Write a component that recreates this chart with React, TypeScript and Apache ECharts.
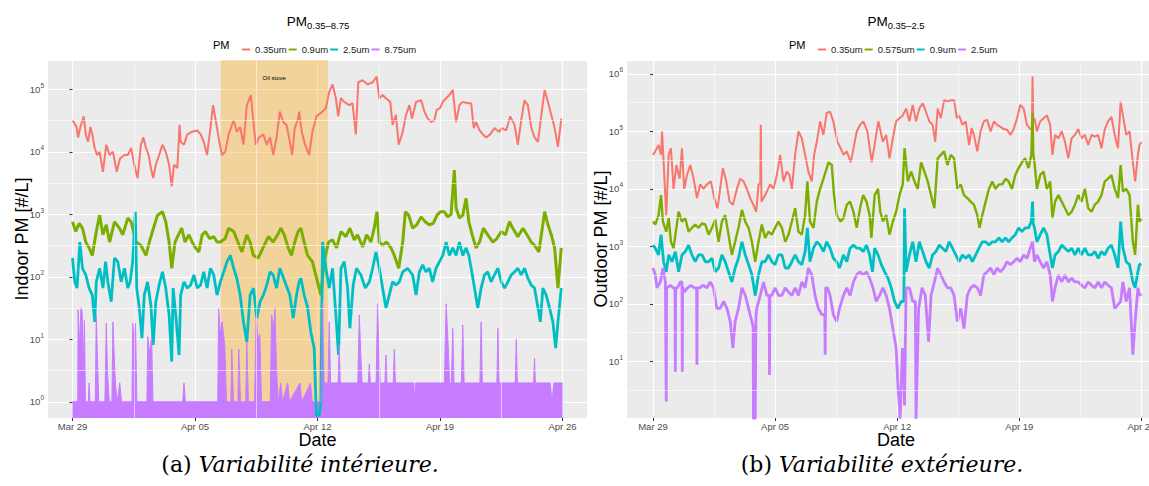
import React, { useEffect, useRef } from 'react';
import * as echarts from 'echarts';

// ---------- axes / annotation data ----------
const X_TICKS = [0, 7, 14, 21, 28];
const X_TICK_LABELS = ['Mar 29', 'Apr 05', 'Apr 12', 'Apr 19', 'Apr 26'];
const X_MINOR = [3.5, 10.5, 17.5, 24.5];
const Y_MINOR_IN = [3.162, 31.62, 316.2, 3162, 31623];
const Y_MINOR_OUT = [3.162, 31.62, 316.2, 3162, 31623, 316228];
const OIL_STOVE = [8.47, 14.59];
const IN_NAMES = ['0.35um', '0.9um', '2.5um', '8.75um'];
const OUT_NAMES = ['0.35um', '0.575um', '0.9um', '2.5um'];
const COLORS = ['#F8766D', '#7CAE00', '#00BFC4', '#C77CFF'];

// ---------- indoor series: [day since Mar 29, #/L] ----------
const IN_035: [number, number][] = [[0,3.2e4],[0.23,2.5e4],[0.32,1.7e4],[0.45,2.5e4],[0.64,3.7e4],[0.76,1.9e4],[0.89,1.45e4],[1.02,2.5e4],[1.13,1.9e4],[1.27,1.15e4],[1.4,8.9e3],[1.55,1e4],[1.74,4.8e3],[1.93,1.3e4],[2.12,8.9e3],[2.31,1e4],[2.53,4.8e3],[2.72,7.9e3],[2.97,8.9e3],[3.16,8.9e3],[3.35,1.15e4],[3.53,6.2e3],[3.72,3.8e3],[3.91,1.3e4],[4.05,1.7e4],[4.2,1.15e4],[4.35,8.9e3],[4.48,5.5e3],[4.61,3.8e3],[4.76,6.2e3],[4.95,8.9e3],[5.14,1.3e4],[5.33,1e4],[5.52,6.2e3],[5.67,2.8e3],[5.8,6.2e3],[5.99,5.5e3],[6.12,2.7e4],[6.18,1.45e4],[6.37,1.3e4],[6.56,1.9e4],[6.84,2.1e4],[7.13,2.2e4],[7.32,1.9e4],[7.5,1.45e4],[7.69,8.9e3],[7.88,2.4e4],[8.03,5.6e4],[8.2,3e4],[8.39,1.45e4],[8.54,8.9e3],[8.73,1e4],[8.92,1.9e4],[9.21,3.2e4],[9.39,2.1e4],[9.58,2.5e4],[9.77,1.3e4],[9.96,5.6e4],[10.19,8.1e4],[10.34,3e4],[10.47,1.3e4],[10.66,1.7e4],[10.91,1.9e4],[11.1,1.3e4],[11.29,1.7e4],[11.47,8.9e3],[11.66,1.7e4],[11.85,4.4e4],[12.04,3e4],[12.23,2.7e4],[12.42,1.45e4],[12.55,8.9e3],[12.7,2.4e4],[12.89,3.4e4],[12.95,4.4e4],[13.1,2.1e4],[13.29,1.3e4],[13.52,8.9e3],[13.71,2.1e4],[13.94,3.7e4],[14.19,4.2e4],[14.48,5e4],[14.67,9.2e4],[14.86,1.2e5],[15.05,7.2e4],[15.18,3.7e4],[15.34,7.2e4],[15.53,6.3e4],[15.81,5.6e4],[16,6e4],[16.19,1.9e4],[16.33,1.3e5],[16.58,1.4e5],[16.86,1.2e5],[17.15,1.3e5],[17.38,1.6e5],[17.53,7.2e4],[17.72,8.1e4],[17.91,7.2e4],[18.16,6.3e4],[18.29,2.7e4],[18.48,3.9e4],[18.64,1.3e4],[18.87,2.1e4],[19.06,3.9e4],[19.25,5.6e4],[19.4,3.4e4],[19.63,6.3e4],[19.92,6.7e4],[20.11,4.4e4],[20.3,3.4e4],[20.49,3e4],[20.68,3.2e4],[20.81,4.7e4],[21,5e4],[21.16,6.3e4],[21.35,7.2e4],[21.54,8.1e4],[21.73,9.8e4],[21.92,3e4],[22.11,5.6e4],[22.3,6.3e4],[22.59,6e4],[22.78,6e4],[22.93,2.4e4],[23.06,3e4],[23.26,2.2e4],[23.45,1.9e4],[23.64,1.7e4],[23.87,1.9e4],[24.11,2.4e4],[24.36,2.1e4],[24.55,2.4e4],[24.78,2.2e4],[25.01,3.7e4],[25.26,2.7e4],[25.45,1.3e4],[25.64,3.2e4],[25.83,6.7e4],[26.02,5.6e4],[26.21,2.5e4],[26.4,1.7e4],[26.6,1.45e4],[26.79,3.9e4],[26.98,9.8e4],[27.17,6.3e4],[27.36,3.9e4],[27.55,2.4e4],[27.74,1.2e4],[27.93,3.4e4]];

const IN_09: [number, number][] = [[0,7.6e2],[0.19,5.3e2],[0.38,7.2e2],[0.57,6e2],[0.76,3.6e2],[0.95,2.9e2],[1.13,2.2e2],[1.36,5.3e2],[1.55,9.7e2],[1.74,4.7e2],[1.93,6.8e2],[2.12,3.6e2],[2.4,7.6e2],[2.68,6e2],[2.87,4.7e2],[3.16,8.7e2],[3.35,7.6e2],[3.63,3.6e2],[3.91,3.2e2],[4.2,2.2e2],[4.39,3.6e2],[4.57,5.3e2],[4.86,9.7e2],[5.14,1.1e3],[5.33,7.6e2],[5.52,3.6e2],[5.67,1.37e2],[5.86,3.6e2],[6.05,4.7e2],[6.24,6e2],[6.43,3.6e2],[6.65,4.7e2],[6.84,3.6e2],[7.03,2.9e2],[7.22,2.5e2],[7.41,4.7e2],[7.6,5.3e2],[7.83,4.1e2],[8.07,4.4e2],[8.26,3.6e2],[8.45,3.6e2],[8.73,4.1e2],[8.92,6e2],[9.21,5.3e2],[9.45,3.6e2],[9.68,2.5e2],[9.96,4.7e2],[10.15,3.6e2],[10.34,2.2e2],[10.62,2e2],[10.91,3e2],[11.19,4.4e2],[11.47,3.6e2],[11.72,4.7e2],[11.91,6e2],[12.1,4.7e2],[12.33,2.9e2],[12.51,2.2e2],[12.7,3.6e2],[12.89,5.3e2],[13.05,6e2],[13.24,3.6e2],[13.43,2.2e2],[13.71,1.75e2],[14,83],[14.19,51],[14.38,1.75e2],[14.63,3.6e2],[14.86,3.9e2],[15.09,2.9e2],[15.34,5.3e2],[15.62,4.4e2],[15.85,6e2],[16.1,3.9e2],[16.29,4.7e2],[16.58,3e2],[16.81,4.7e2],[17.05,3.6e2],[17.24,6e2],[17.4,1.1e3],[17.53,3.6e2],[17.72,3.2e2],[17.95,3.6e2],[18.2,2.9e2],[18.39,2.2e2],[18.64,1.37e2],[18.87,3.6e2],[19.02,1.1e3],[19.21,9.7e2],[19.44,6e2],[19.67,6.8e2],[19.92,9.1e2],[20.15,7.6e2],[20.39,6.8e2],[20.62,7.2e2],[20.83,9.7e2],[21.02,1.1e3],[21.25,1.1e3],[21.44,9.1e2],[21.63,1e3],[21.82,5.1e3],[21.92,1.26e3],[22.11,8.7e2],[22.3,9.7e2],[22.49,1.8e3],[22.65,7.6e2],[22.84,4.7e2],[23.06,2.9e2],[23.26,3.6e2],[23.48,6e2],[23.73,4.7e2],[24.02,3.6e2],[24.25,4.1e2],[24.5,5.3e2],[24.74,4.7e2],[24.97,7.6e2],[25.16,6e2],[25.45,4.4e2],[25.74,6e2],[25.97,4.7e2],[26.21,3.6e2],[26.4,3.2e2],[26.65,2.5e2],[26.98,1.1e3],[27.17,6.8e2],[27.36,4.7e2],[27.55,2.9e2],[27.74,66],[27.93,2.9e2]];

const IN_25: [number, number][] = [[0,2e2],[0.13,83],[0.26,66],[0.42,3.6e2],[0.57,1.37e2],[0.76,1.07e2],[0.95,66],[1.13,51],[1.27,19],[1.36,83],[1.55,1.37e2],[1.74,66],[1.89,1.75e2],[2.02,83],[2.21,40],[2.4,2e2],[2.59,1.75e2],[2.78,83],[2.97,1.37e2],[3.16,66],[3.29,83],[3.44,1.75e2],[3.59,1.1e3],[3.67,66],[3.82,31.6],[3.97,10.4],[4.1,51],[4.29,83],[4.48,35],[4.61,8.1],[4.76,40],[4.95,74],[5.14,1.2e2],[5.33,66],[5.52,24.5],[5.67,4.4],[5.75,66],[5.9,24.5],[6.09,5.6],[6.18,51],[6.37,83],[6.56,66],[6.75,74],[6.94,1.07e2],[7.13,66],[7.32,74],[7.5,1.2e2],[7.69,66],[7.88,1.37e2],[8.07,1.07e2],[8.26,51],[8.45,83],[8.64,1.2e2],[8.83,1.75e2],[9.02,2.2e2],[9.21,1.37e2],[9.39,95],[9.58,51],[9.77,19],[9.96,9.1],[10.15,51],[10.34,66],[10.53,21.8],[10.72,40],[10.91,51],[11.1,74],[11.29,1.2e2],[11.47,1.07e2],[11.66,66],[11.85,1.37e2],[12.14,83],[12.42,51],[12.61,21.8],[12.8,51],[12.95,83],[13.05,95],[13.24,51],[13.43,33],[13.62,13],[13.81,7.2],[13.94,0.6],[14.1,0.6],[14.19,1],[14.29,3.6e2],[14.48,1.37e2],[14.67,66],[14.86,1.37e2],[15.05,24.5],[15.2,5.6],[15.34,1.37e2],[15.53,1.75e2],[15.72,66],[15.85,15],[16.04,74],[16.23,1.37e2],[16.48,1.07e2],[16.73,66],[16.96,83],[17.15,1.37e2],[17.34,2.5e2],[17.53,1.37e2],[17.72,66],[17.91,31.6],[18.1,51],[18.29,83],[18.48,74],[18.68,83],[18.87,1.2e2],[19.15,1.37e2],[19.44,1.07e2],[19.63,51],[19.82,1.2e2],[20.01,1.55e2],[20.2,1.2e2],[20.39,1.37e2],[20.58,83],[20.77,1.37e2],[20.97,1.75e2],[21.16,2.2e2],[21.35,3.6e2],[21.54,2.2e2],[21.73,2.9e2],[21.92,2.2e2],[22.11,3.6e2],[22.3,2.2e2],[22.49,2.9e2],[22.65,2.2e2],[22.78,1.37e2],[22.97,66],[23.16,31.6],[23.35,66],[23.54,1.07e2],[23.73,1.2e2],[23.92,83],[24.11,1.07e2],[24.31,1.37e2],[24.5,83],[24.69,66],[24.88,83],[25.07,1.07e2],[25.26,1.2e2],[25.45,1.37e2],[25.64,1.07e2],[25.83,1.37e2],[26.02,95],[26.21,74],[26.4,66],[26.6,31.6],[26.73,19],[26.88,66],[27.07,51],[27.26,31.6],[27.45,19],[27.61,7.2],[27.74,19],[27.93,66]];

const IN_875: [number, number][] = [[0,1],[0.3,1],[0.32,30],[0.4,8],[0.48,32],[0.55,28],[0.62,4],[0.68,20],[0.74,1],[0.9,1],[0.95,2],[1,1],[1.3,1],[1.36,24.5],[1.42,6],[1.5,1],[1.85,1],[1.93,18],[2,3],[2.1,1],[2.25,1],[2.31,19],[2.38,6],[2.45,2],[2.55,1],[2.7,2],[2.8,1],[3.4,1],[3.44,18],[3.52,10],[3.6,18],[3.68,1],[4.25,1],[4.3,11],[4.4,6],[4.52,11],[4.6,1],[6.3,1],[6.37,2],[6.45,1],[8.3,1],[8.35,31.6],[8.45,12],[8.55,19],[8.7,8],[8.8,1],[9.05,1],[9.1,7],[9.2,1],[9.45,1],[9.5,7],[9.6,1],[9.9,1],[9.96,9],[10.05,1],[10.4,1],[10.5,24],[10.6,10],[10.7,12],[10.8,1],[11.3,1],[11.38,24.5],[11.5,15],[11.57,31.6],[11.65,4],[11.75,1],[11.9,2],[12,1],[12.3,2],[12.4,1],[13,2],[13.1,1],[13.6,2],[13.7,1],[14.2,1],[14.29,40],[14.38,2],[14.6,2],[14.67,19],[14.75,2],[15.18,2],[15.24,8],[15.3,2],[16.3,2],[16.39,24.5],[16.47,6],[16.55,2],[16.9,2],[16.96,4],[17.02,2],[17.35,2],[17.43,37],[17.5,8],[17.58,2],[17.85,2],[17.91,5.6],[17.97,2],[18.33,2],[18.39,7],[18.45,2],[19.5,2],[19.55,1],[19.6,2],[21.25,2],[21.35,37],[21.45,10],[21.55,2],[21.65,2],[21.73,15],[21.8,2],[22.22,2],[22.3,17],[22.38,2],[23.28,2],[23.35,19],[23.42,2],[24.25,2],[24.31,15],[24.37,2],[25.3,2],[25.36,10],[25.42,2],[26.35,2],[26.4,5],[26.45,2],[27.3,2],[27.4,1],[27.5,2],[28,2]];

// ---------- outdoor series ----------
const OUT_035: [number, number][] = [[0,3.9e4],[0.13,4.5e4],[0.32,5.8e4],[0.46,3.9e4],[0.52,1e5],[0.61,2.9e4],[0.76,3.5e3],[0.9,3.9e4],[1.03,5.1e4],[1.18,1e4],[1.34,2.6e4],[1.53,1.5e4],[1.66,5.1e4],[1.79,1e4],[1.95,1.75e4],[2.14,2.6e4],[2.33,1.5e4],[2.52,6.9e3],[2.71,1.2e4],[2.9,1e4],[3.09,1.2e4],[3.32,1.35e4],[3.51,6.9e3],[3.7,4.6e3],[3.85,1e4],[4.01,2.3e4],[4.2,1.35e4],[4.39,6e3],[4.58,5.3e3],[4.81,1e4],[5,1.5e4],[5.19,1.35e4],[5.38,1e4],[5.57,6.9e3],[5.76,5.3e3],[5.92,4e3],[6.05,1.2e4],[6.15,1.2e4],[6.18,1.3e5],[6.22,6e3],[6.43,7.8e3],[6.72,1.2e4],[6.91,1e4],[7.1,1.75e4],[7.29,3.9e4],[7.48,1.35e4],[7.67,2e4],[7.82,1.75e4],[7.96,1e4],[8.15,3.9e4],[8.34,1e5],[8.53,7.6e4],[8.72,3.9e4],[8.91,2e4],[9.1,1.35e4],[9.24,3.9e4],[9.39,6.6e4],[9.58,1.5e5],[9.77,8.7e4],[9.96,2.1e5],[10.15,2.2e5],[10.34,1.5e5],[10.57,6.6e4],[10.76,5.1e4],[10.92,3.9e4],[11.11,4.5e4],[11.34,2.9e4],[11.53,5.8e4],[11.68,1e5],[11.87,1.3e5],[12.06,1.5e5],[12.29,1e5],[12.54,2.9e4],[12.73,6.6e4],[12.92,1.5e5],[13.18,6.6e4],[13.37,8.7e4],[13.56,3.4e4],[13.75,7.6e4],[13.94,1.5e5],[14.13,1.7e5],[14.32,1.9e5],[14.51,2.5e5],[14.7,1.5e5],[14.89,2.9e5],[15.08,1.5e5],[15.27,2.5e5],[15.46,3.1e5],[15.65,2.2e5],[15.84,1.5e5],[16.03,1.3e5],[16.18,6.6e4],[16.32,2.5e5],[16.5,1.7e5],[16.69,3.5e5],[16.88,3.3e5],[17.07,3.5e5],[17.26,3.5e5],[17.42,1.7e5],[17.55,1.9e5],[17.74,1.3e5],[17.93,1.5e5],[18.12,5.8e4],[18.27,1.15e5],[18.4,8.7e4],[18.59,4.5e4],[18.78,1e5],[18.97,1.5e5],[19.16,1.6e5],[19.35,1e5],[19.55,1.5e5],[19.73,1.3e5],[19.92,1.2e5],[20.11,1.1e5],[20.3,1.07e5],[20.49,8.7e4],[20.68,1.1e5],[20.87,1.7e5],[21.06,2.9e5],[21.25,2.5e5],[21.44,1.3e5],[21.63,1.1e5],[21.72,1.1e5],[21.76,9e5],[21.8,1.5e5],[21.87,1.7e5],[22.01,1e5],[22.2,1.5e5],[22.39,1.7e5],[22.58,1.9e5],[22.77,1.3e5],[22.9,3.9e4],[23.05,8.7e4],[23.24,7.6e4],[23.43,1e5],[23.62,6.6e4],[23.81,3.4e4],[24,7.6e4],[24.19,8.7e4],[24.38,1.1e5],[24.57,7.6e4],[24.76,8.7e4],[24.95,5.8e4],[25.14,8.7e4],[25.33,8.1e4],[25.52,8.7e4],[25.71,5.1e4],[25.9,1.1e5],[26.09,1.5e5],[26.28,1.8e5],[26.47,8.7e4],[26.66,5.1e4],[26.81,3.3e5],[26.94,1.9e5],[27.13,8.7e4],[27.32,1e5],[27.51,2.9e4],[27.64,1.35e4],[27.8,3.9e4],[27.89,5.8e4],[28,6.5e4]];

const OUT_0575: [number, number][] = [[0,2.7e3],[0.13,2.4e3],[0.32,3.5e3],[0.46,7.8e3],[0.57,2.7e3],[0.76,1.8e3],[0.9,3.1e3],[1.03,1.2e3],[1.18,9.3e2],[1.34,2.1e3],[1.47,4e3],[1.66,2.7e3],[1.85,3.1e3],[2.04,1.8e3],[2.23,2.1e3],[2.42,2.4e3],[2.61,2.1e3],[2.81,2.5e3],[3,2.4e3],[3.19,1.6e3],[3.38,2.1e3],[3.57,2.9e3],[3.76,1.2e3],[3.95,2.7e3],[4.14,3.5e3],[4.33,1.6e3],[4.52,7.1e2],[4.71,1.2e3],[4.9,2.1e3],[5.1,4.3e3],[5.29,2.7e3],[5.48,2.1e3],[5.67,1.2e3],[5.86,5.4e2],[6.05,1.2e3],[6.24,2.4e3],[6.43,1.4e3],[6.62,1.8e3],[6.81,1.6e3],[7,2.1e3],[7.19,2.7e3],[7.39,2.1e3],[7.58,1.2e3],[7.77,1.6e3],[7.96,2.7e3],[8.15,4.6e3],[8.34,1.8e3],[8.53,1.6e3],[8.72,3.5e3],[8.85,1.35e4],[9,2.7e3],[9.2,2.1e3],[9.39,6e3],[9.58,1e4],[9.77,1.5e4],[10.06,2.9e4],[10.25,2.6e4],[10.38,7.8e3],[10.53,3.5e3],[10.76,2.7e3],[10.92,3.1e3],[11.11,5.3e3],[11.3,6e3],[11.49,4e3],[11.68,2.1e3],[11.87,4.6e3],[12.05,7.8e3],[12.24,6e3],[12.42,3.5e3],[12.52,1.4e3],[12.71,7.8e3],[12.9,1e4],[13.03,4e3],[13.18,2.7e3],[13.37,3.5e3],[13.56,1.6e3],[13.75,2.7e3],[13.94,4e3],[14.13,7.8e3],[14.32,1.2e4],[14.42,5.1e4],[14.61,1.35e4],[14.8,2e4],[14.99,1.35e4],[15.18,1e4],[15.37,2.9e4],[15.56,2e4],[15.75,1.35e4],[15.94,7.8e3],[16.13,4.6e3],[16.32,3.4e4],[16.5,3.9e4],[16.69,4.5e4],[16.88,2.6e4],[17.07,3.9e4],[17.26,3.4e4],[17.45,1e4],[17.64,1.2e4],[17.83,7.8e3],[18.02,6.9e3],[18.21,6e3],[18.4,5.3e3],[18.59,3.5e3],[18.72,2.1e3],[18.88,3.5e3],[19.07,6e3],[19.26,1e4],[19.45,1.35e4],[19.64,1e4],[19.83,1.2e4],[20.02,1.2e4],[20.21,1.5e4],[20.39,1.35e4],[20.58,1e4],[20.77,1.75e4],[20.96,2.3e4],[21.15,2.9e4],[21.34,3.4e4],[21.53,2.3e4],[21.69,3.9e4],[21.76,2.1e5],[21.8,4e4],[21.87,2.9e4],[22.01,1e4],[22.2,1.75e4],[22.39,2e4],[22.58,1e4],[22.77,1.35e4],[22.9,3.1e3],[23.05,6e3],[23.24,7.8e3],[23.43,6e3],[23.62,4.6e3],[23.81,3.5e3],[24,4e3],[24.19,5.3e3],[24.38,7.8e3],[24.57,6e3],[24.76,1e4],[24.95,4.6e3],[25.14,4e3],[25.33,5.3e3],[25.52,6e3],[25.71,7.8e3],[25.9,1.35e4],[26.09,1.5e4],[26.28,1.75e4],[26.47,1e4],[26.66,6.9e3],[26.81,2.6e4],[26.94,9e3],[27.13,1e4],[27.32,7.8e3],[27.51,1.2e3],[27.64,7.1e2],[27.8,5.3e3],[27.89,2.7e3],[28,3e3]];

const OUT_09: [number, number][] = [[0,1.05e3],[0.13,9.3e2],[0.32,7.1e2],[0.46,1.6e3],[0.61,5.4e2],[0.76,3.6e2],[0.9,7.1e2],[1.09,5.4e2],[1.28,8.1e2],[1.47,3.6e2],[1.66,7.1e2],[1.85,8.1e2],[2.04,1.05e3],[2.23,7.1e2],[2.42,5.4e2],[2.61,7.1e2],[2.81,7.1e2],[3,5.4e2],[3.19,5.4e2],[3.38,6.2e2],[3.57,3.6e2],[3.76,4.2e2],[3.95,7.1e2],[4.14,5.4e2],[4.33,3.6e2],[4.52,2.4e2],[4.71,4.2e2],[4.9,6.2e2],[5.1,1.2e3],[5.29,7.1e2],[5.48,4.8e2],[5.67,3.2e2],[5.86,1.4e2],[6.05,3.2e2],[6.24,5.4e2],[6.43,5.4e2],[6.62,7.1e2],[6.81,5.4e2],[7,4.8e2],[7.19,7.1e2],[7.39,7.1e2],[7.58,4.2e2],[7.77,4.2e2],[7.96,5.4e2],[8.15,7.1e2],[8.34,5.4e2],[8.53,4.8e2],[8.72,8.1e2],[8.85,2.1e3],[9,5.4e2],[9.2,9.3e2],[9.39,1.2e3],[9.58,1.05e3],[9.77,8.1e2],[9.96,1.2e3],[10.15,9.3e2],[10.34,6.2e2],[10.53,5.4e2],[10.69,4.2e2],[10.92,7.1e2],[11.11,5.4e2],[11.3,9.3e2],[11.49,1.05e3],[11.68,9.3e2],[11.86,9.3e2],[12.05,8.1e2],[12.24,1.05e3],[12.42,7.1e2],[12.58,3.6e2],[12.71,9.3e2],[12.9,7.1e2],[13.09,4.8e2],[13.28,3.6e2],[13.47,2.8e2],[13.66,1.9e2],[13.85,1.1e2],[14.04,83],[14.23,1.1e2],[14.38,1.1e2],[14.42,4.6e3],[14.51,3.6e2],[14.7,7.1e2],[14.89,1.2e3],[15.08,5.4e2],[15.27,1.2e3],[15.46,8.1e2],[15.65,5.4e2],[15.84,4.2e2],[16.03,7.1e2],[16.22,8.1e2],[16.41,1.05e3],[16.6,9.3e2],[16.79,8.1e2],[16.98,1.2e3],[17.17,9.3e2],[17.36,7.1e2],[17.55,5.4e2],[17.74,7.1e2],[17.93,6.2e2],[18.12,7.1e2],[18.31,5.4e2],[18.5,7.1e2],[18.69,9.3e2],[18.88,1.2e3],[19.07,1.2e3],[19.26,1.05e3],[19.45,1.2e3],[19.64,1.2e3],[19.83,1.4e3],[20.02,1.2e3],[20.21,1.4e3],[20.39,1.2e3],[20.58,1.4e3],[20.77,1.6e3],[20.96,2.1e3],[21.15,1.8e3],[21.34,2.1e3],[21.53,2.1e3],[21.69,2.7e3],[21.76,6e3],[21.8,2.5e3],[21.87,2.1e3],[22.01,1.2e3],[22.2,1.6e3],[22.39,2.1e3],[22.58,1.6e3],[22.77,7.1e2],[22.9,4.2e2],[23.05,7.1e2],[23.24,8.1e2],[23.43,1.05e3],[23.62,9.3e2],[23.81,8.1e2],[24,9.3e2],[24.19,7.1e2],[24.38,9.3e2],[24.57,7.1e2],[24.76,9.3e2],[24.95,7.1e2],[25.14,7.1e2],[25.33,8.1e2],[25.52,6.2e2],[25.71,8.1e2],[25.9,7.1e2],[26.09,9.3e2],[26.28,1.05e3],[26.47,7.1e2],[26.66,4.2e2],[26.81,2.7e3],[26.94,9.3e2],[27.13,5.4e2],[27.32,4.8e2],[27.51,2.4e2],[27.64,1.9e2],[27.8,3.6e2],[27.89,4.8e2],[28,5e2]];

const OUT_25: [number, number][] = [[0,4.2e2],[0.13,3.2e2],[0.23,1.9e2],[0.42,2.4e2],[0.57,4.2e2],[0.71,2.4e2],[0.74,2.4e2],[0.76,2],[0.78,2e2],[0.84,1.9e2],[0.99,2.1e2],[1.15,1.9e2],[1.26,1.9e2],[1.28,6.6],[1.3,1.9e2],[1.41,1.9e2],[1.56,2.4e2],[1.66,2.4e2],[1.68,6.6],[1.7,2e2],[1.79,1.6e2],[1.98,1.9e2],[2.18,2.1e2],[2.37,1.9e2],[2.5,1.9e2],[2.52,8.7],[2.54,1.9e2],[2.67,1.9e2],[2.86,2.1e2],[3.09,1.9e2],[3.28,2.4e2],[3.47,1.9e2],[3.66,83],[3.85,83],[4.05,1.1e2],[4.24,83],[4.43,49],[4.58,17],[4.71,49],[4.9,83],[5.1,1.9e2],[5.29,1.4e2],[5.48,83],[5.67,49],[5.74,40],[5.76,1],[5.86,1],[5.9,60],[5.95,83],[6.15,1.4e2],[6.34,2.4e2],[6.53,1.4e2],[6.66,1.4e2],[6.68,5.8],[6.7,1.4e2],[6.81,1.4e2],[7,1.9e2],[7.19,1.4e2],[7.39,1.4e2],[7.58,1.9e2],[7.77,1.6e2],[7.96,1.4e2],[8.15,1.9e2],[8.34,1.4e2],[8.53,2.4e2],[8.72,1.9e2],[8.91,4.2e2],[9.1,3.2e2],[9.29,1.4e2],[9.48,83],[9.68,65],[9.85,65],[9.87,13],[9.9,1.9e2],[10,1.9e2],[10.15,1.4e2],[10.34,65],[10.53,49],[10.69,83],[10.92,1.4e2],[11.11,1.9e2],[11.3,1.4e2],[11.49,2.4e2],[11.68,3.2e2],[11.86,3.6e2],[12.05,3.2e2],[12.24,3.6e2],[12.42,2.8e2],[12.61,1.9e2],[12.8,1.1e2],[12.99,1.4e2],[13.18,1.9e2],[13.37,1.4e2],[13.56,83],[13.75,37],[13.94,17],[14.04,3.9],[14.17,1],[14.3,17],[14.38,8],[14.42,1.7],[14.51,1.9e2],[14.7,1.9e2],[14.89,1.1e2],[15.04,1.1e2],[15.08,1],[15.12,1],[15.23,83],[15.42,1.9e2],[15.61,1.4e2],[15.8,22],[15.94,1.4e2],[16.13,2.4e2],[16.32,4.2e2],[16.5,3.2e2],[16.69,2.4e2],[16.88,1.9e2],[17.07,1.9e2],[17.26,1.4e2],[17.45,49],[17.64,83],[17.83,37],[18.02,1.4e2],[18.21,1.9e2],[18.4,2.1e2],[18.59,1.9e2],[18.78,1.4e2],[18.97,3.2e2],[19.16,3.6e2],[19.35,4.2e2],[19.55,3.2e2],[19.73,4.2e2],[19.92,3.6e2],[20.11,4.2e2],[20.3,5.4e2],[20.49,4.8e2],[20.68,5.4e2],[20.87,6.2e2],[21.06,5.4e2],[21.25,7.1e2],[21.44,6.2e2],[21.63,9.3e2],[21.76,1.2e3],[21.87,5.4e2],[22.01,7.1e2],[22.2,5.4e2],[22.39,4.2e2],[22.58,5.4e2],[22.77,3.2e2],[22.9,1.1e2],[23.05,1.9e2],[23.24,3.2e2],[23.43,2.4e2],[23.62,3.2e2],[23.81,2.4e2],[24,2.8e2],[24.19,2.4e2],[24.38,2.4e2],[24.57,2.1e2],[24.76,1.9e2],[24.95,2.4e2],[25.14,2.1e2],[25.33,1.9e2],[25.52,2.4e2],[25.71,1.9e2],[25.9,2.4e2],[26.09,2.1e2],[26.28,1.9e2],[26.47,83],[26.66,97],[26.81,1.1e2],[26.94,2.4e2],[27.13,1.1e2],[27.32,1.9e2],[27.51,13],[27.64,49],[27.8,1.9e2],[27.89,1.4e2],[28,1.5e2]];

const FONT = 'Liberation Sans';
const SERIF = 'DejaVu Serif';
const TICK_GREY = '#4D4D4D';

function fmtX(v: number) {
  const i = X_TICKS.findIndex((t) => Math.abs(t - v) < 1e-6);
  return i >= 0 ? X_TICK_LABELS[i] : '';
}
function fmtY(v: number) {
  const e = Math.log10(v);
  const r = Math.round(e);
  if (Math.abs(e - r) > 0.01) return '';
  return `{b|10}{s|${r}}`;
}

function xAxis(gi: number, min: number, max: number) {
  return {
    type: 'value', gridIndex: gi, min, max,
    axisLine: { show: false },
    axisTick: { show: true, length: 3, customValues: X_TICKS, lineStyle: { color: '#333333', width: 1 } },
    axisLabel: { show: true, customValues: X_TICKS, margin: 3, fontSize: 9.5, color: TICK_GREY, fontFamily: FONT, formatter: fmtX },
    splitLine: { show: true, lineStyle: { color: '#FFFFFF', width: 1.1 } },
  };
}
function yAxis(gi: number, min: number, max: number) {
  return {
    type: 'log', logBase: 10, gridIndex: gi, min, max,
    axisLine: { show: false },
    axisTick: { show: true, length: 3, lineStyle: { color: '#333333', width: 1 } },
    axisLabel: {
      margin: 4, formatter: fmtY, showMinLabel: false, showMaxLabel: false,
      rich: {
        b: { fontSize: 9.5, color: TICK_GREY, fontFamily: FONT },
        s: { fontSize: 6.5, color: TICK_GREY, fontFamily: FONT, padding: [0, 0, 8, 0] },
      },
    },
    splitLine: { show: true, lineStyle: { color: '#FFFFFF', width: 1.1 } },
  };
}

function line(name: string, data: [number, number][], color: string, gi: number, width: number, extra: any = {}) {
  return {
    type: 'line', name, data, xAxisIndex: gi, yAxisIndex: gi,
    showSymbol: false, symbol: 'none', silent: true, z: 3,
    emphasis: { disabled: true },
    lineStyle: { color, width },
    itemStyle: { color },
    ...extra,
  };
}

function gridHelper(gi: number, yMinor: number[], extra: any = {}) {
  return {
    type: 'line', data: [], xAxisIndex: gi, yAxisIndex: gi, z: 1, silent: true,
    markLine: {
      silent: true, symbol: ['none', 'none'], label: { show: false }, animation: false,
      lineStyle: { color: '#FFFFFF', width: 0.55, type: 'solid' },
      emphasis: { disabled: true },
      data: [...X_MINOR.map((x) => ({ xAxis: x })), ...yMinor.map((y) => ({ yAxis: y }))],
    },
    ...extra,
  };
}

const OUT_SERIES_NAMES = OUT_NAMES.map((n) => n + ' ');

function buildOption() {
  const legendBase = {
    icon: 'rect', itemWidth: 8, itemHeight: 2, itemGap: 2, top: 39.5, selectedMode: false,
    textStyle: { fontSize: 9.5, color: '#1A1A1A', fontFamily: FONT },
    formatter: (n: string) => n.trim(),
  };
  const titleRich = {
    m: { fontSize: 13.5, fontFamily: FONT, fill: '#000' },
    s: { fontSize: 9.5, fontFamily: FONT, fill: '#000', padding: [8, 0, 0, 0] },
  };
  const capRich = {
    u: { fontSize: 22, fontFamily: SERIF, fill: '#000' },
    i: { fontSize: 22, fontFamily: SERIF, fontStyle: 'italic', fill: '#000' },
  };
  return {
    animation: false,
    textStyle: { fontFamily: FONT },
    grid: [
      { left: 48, top: 60, width: 539, height: 358, show: true, backgroundColor: '#EBEBEB', borderWidth: 0 },
      { left: 627, top: 60, width: 539, height: 358, show: true, backgroundColor: '#EBEBEB', borderWidth: 0 },
    ],
    xAxis: [xAxis(0, -1.4, 29.4), xAxis(1, -1.49, 29.41)],
    yAxis: [yAxis(0, 0.55, 2.95e5), yAxis(1, 1.03, 1.75e6)],
    legend: [
      { ...legendBase, left: 237, data: IN_NAMES },
      { ...legendBase, left: 813, data: OUT_SERIES_NAMES },
    ],
    series: [
      gridHelper(0, Y_MINOR_IN, {
        markArea: {
          silent: true,
          itemStyle: { color: 'rgba(255,165,0,0.34)' },
          label: { show: true, position: 'insideTop', distance: 15, fontSize: 6, color: '#000000', fontFamily: FONT },
          emphasis: { disabled: true },
          data: [[{ name: 'Oil stove', xAxis: OIL_STOVE[0] }, { xAxis: OIL_STOVE[1] }]],
        },
      }),
      gridHelper(1, Y_MINOR_OUT),
      line(IN_NAMES[0], IN_035, COLORS[0], 0, 2),
      line(IN_NAMES[1], IN_09, COLORS[1], 0, 3),
      line(IN_NAMES[2], IN_25, COLORS[2], 0, 2.8),
      line(IN_NAMES[3], IN_875, COLORS[3], 0, 1, { areaStyle: { color: COLORS[3], opacity: 1, origin: 'start' } }),
      line(OUT_SERIES_NAMES[0], OUT_035, COLORS[0], 1, 2),
      line(OUT_SERIES_NAMES[1], OUT_0575, COLORS[1], 1, 2.4),
      line(OUT_SERIES_NAMES[2], OUT_09, COLORS[2], 1, 2.8),
      line(OUT_SERIES_NAMES[3], OUT_25, COLORS[3], 1, 2.8),
    ],
    graphic: [
      { type: 'text', x: 318, y: 21, style: { text: '{m|PM}{s|0.35–8.75}', textAlign: 'center', textVerticalAlign: 'middle', rich: titleRich } },
      { type: 'text', x: 896, y: 21, style: { text: '{m|PM}{s|0.35–2.5}', textAlign: 'center', textVerticalAlign: 'middle', rich: titleRich } },
      { type: 'text', x: 213, y: 45, style: { text: 'PM', fontSize: 11, fontFamily: FONT, fill: '#000', textVerticalAlign: 'middle' } },
      { type: 'text', x: 789, y: 45, style: { text: 'PM', fontSize: 11, fontFamily: FONT, fill: '#000', textVerticalAlign: 'middle' } },
      { type: 'text', x: 22, y: 239, rotation: Math.PI / 2, style: { text: 'Indoor PM [#/L]', fontSize: 18, fontFamily: FONT, fill: '#000', textAlign: 'center', textVerticalAlign: 'middle' } },
      { type: 'text', x: 601, y: 239, rotation: Math.PI / 2, style: { text: 'Outdoor PM [#/L]', fontSize: 18, fontFamily: FONT, fill: '#000', textAlign: 'center', textVerticalAlign: 'middle' } },
      { type: 'text', x: 317.5, y: 440, style: { text: 'Date', fontSize: 18, fontFamily: FONT, fill: '#000', textAlign: 'center', textVerticalAlign: 'middle' } },
      { type: 'text', x: 896, y: 440, style: { text: 'Date', fontSize: 18, fontFamily: FONT, fill: '#000', textAlign: 'center', textVerticalAlign: 'middle' } },
      { type: 'text', x: 300, y: 464, style: { text: '{u|(a) }{i|Variabilité intérieure.}', textAlign: 'center', textVerticalAlign: 'middle', rich: capRich } },
      { type: 'text', x: 882, y: 464, style: { text: '{u|(b) }{i|Variabilité extérieure.}', textAlign: 'center', textVerticalAlign: 'middle', rich: capRich } },
    ],
  };
}

export default function App() {
  const ref = useRef<HTMLDivElement>(null);
  useEffect(() => {
    if (!ref.current) return;
    const chart = echarts.init(ref.current, undefined, { renderer: 'svg' });
    chart.setOption(buildOption() as any);
    return () => chart.dispose();
  }, []);
  return <div ref={ref} style={{ position: 'fixed', left: 0, top: 0, width: 1170, height: 486, background: '#FFFFFF' }} />;
}
